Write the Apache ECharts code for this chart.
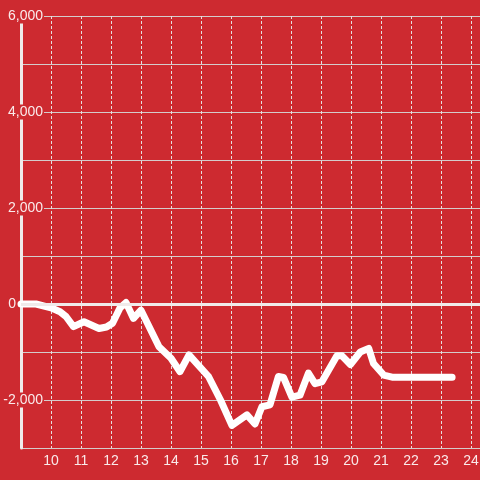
<!DOCTYPE html>
<html>
<head>
<meta charset="utf-8">
<script src="https://cdn.jsdelivr.net/npm/echarts@6/dist/echarts.min.js"></script>
<style>html,body{margin:0;padding:0;background:#cd2a30;}#c{width:480px;height:480px;}</style>
</head>
<body>
<div id="c"></div>
<script>
var hours = [9.0, 9.5, 10.0, 10.3, 10.5, 10.75, 11.1, 11.6, 11.85, 12.05, 12.3, 12.5, 12.75, 13.0, 13.6, 14.0, 14.3, 14.6, 15.25, 15.65, 16.03, 16.53, 16.8, 17.03, 17.3, 17.58, 17.75, 18.03, 18.3, 18.58, 18.8, 19.03, 19.53, 19.7, 19.98, 20.31, 20.59, 20.75, 21.09, 21.37, 23.37];
var values = [0, 0, -80, -160, -260, -470, -370, -510, -480, -400, -80, 30, -300, -130, -890, -1130, -1410, -1060, -1510, -2000, -2530, -2310, -2500, -2140, -2100, -1510, -1530, -1940, -1900, -1440, -1660, -1620, -1080, -1080, -1260, -1000, -925, -1240, -1480, -1525, -1525];
var yMin = -3000, yMax = 6000, yStep = 1000;
var xMin = 9, xMax = 24.5;

var red = '#cd2a30';
var txt = 'rgba(255,255,255,0.9)';
var font = "'Liberation Sans', Arial, sans-serif";

var chart = echarts.init(document.getElementById('c'));
var pts = hours.map(function (h, i) { return [h, values[i]]; });

chart.setOption({
  backgroundColor: red,
  animation: false,
  grid: { left: 21, top: 16, width: 465, bottom: 32, containLabel: false, outerBoundsMode: 'none' },
  xAxis: {
    type: 'value', min: xMin, max: xMax, interval: 1,
    axisLine: { show: false }, axisTick: { show: false },
    splitLine: { show: true, lineStyle: { color: '#e6dede', width: 1, type: [3, 2] } },
    axisLabel: {
      color: txt, fontSize: 14, fontFamily: font, margin: 6,
      showMinLabel: false, showMaxLabel: false,
      formatter: function (v) { return Math.round(v) === v ? String(v) : ''; }
    }
  },
  yAxis: [{
    type: 'value', min: yMin, max: yMax, interval: yStep, position: 'left', z: 3,
    axisLine: { show: true, lineStyle: { color: '#f0eaea', width: 3 } },
    axisTick: { show: false },
    splitLine: { show: false },
    axisLabel: {
      align: 'right', margin: -23, fontSize: 14, fontFamily: font, color: txt,
      formatter: function (v) {
        if (v % 2000 !== 0) return '';
        if (v === 0) return '{z|0}';
        return '{b|' + v.toLocaleString('en-US') + '}';
      },
      rich: {
        b: { color: txt, fontSize: 14, fontFamily: font, backgroundColor: red, padding: [1, 1, 0, 14], lineHeight: 14 },
        z: { color: txt, fontSize: 14, fontFamily: font, padding: [0, 28, 0, 0], lineHeight: 14 }
      }
    }
  }, {
    type: 'value', min: yMin, max: yMax, interval: yStep, position: 'left', z: 0,
    axisLine: { show: false }, axisTick: { show: false }, axisLabel: { show: false },
    splitLine: { show: true, lineStyle: { color: '#d4cccc', width: 1 } }
  }],
  series: [{
    type: 'line', yAxisIndex: 0, data: pts, showSymbol: false, smooth: false,
    lineStyle: { color: '#ffffff', width: 7, cap: 'round', join: 'round' },
    markLine: {
      silent: true, symbol: 'none', label: { show: false },
      lineStyle: { color: '#f0eaea', width: 3, type: 'solid' },
      data: [{ yAxis: 0 }]
    }
  }]
});
</script>
</body>
</html>
